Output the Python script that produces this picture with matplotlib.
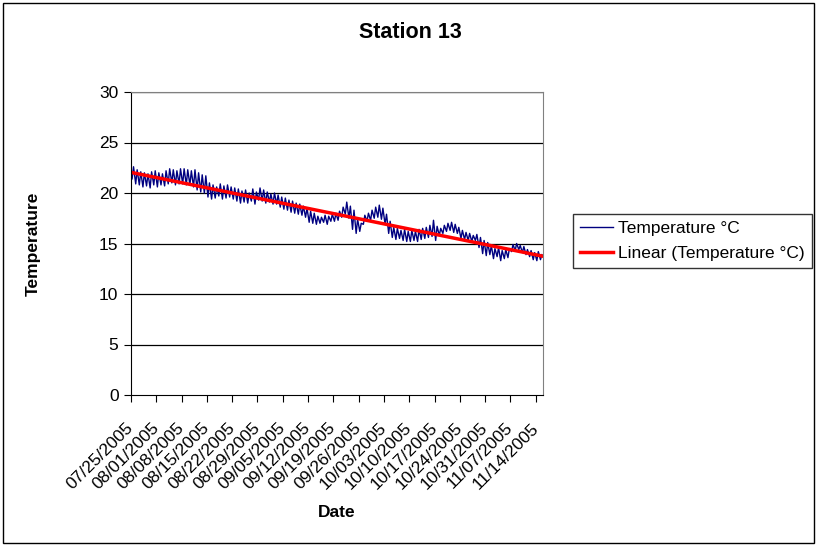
import numpy as np
import matplotlib.pyplot as plt
from matplotlib.patches import Rectangle
import datetime as dt

plt.rcParams['font.family'] = ['Liberation Sans', 'DejaVu Sans']

# daily range of readings, 07/25/2005 .. 11/15/2005
start = dt.date(2005, 7, 25)
daily_max = [22.6, 22.3, 22.1, 22.0, 21.9, 22.1, 22.2,
             22.0, 21.9, 22.2, 22.4, 22.3, 22.2, 22.4,
             22.4, 22.3, 22.2, 22.3, 22.0, 21.8, 21.7,
             21.0, 20.8, 20.6, 20.9, 20.7, 20.8, 20.6,
             20.5, 20.4, 20.2, 20.3, 20.0, 20.4, 20.1,
             20.5, 20.3, 20.1, 19.9, 20.0, 19.8, 19.6,
             19.5, 19.3, 19.2, 19.0, 18.9, 18.7, 18.5,
             18.2, 18.0, 17.7, 17.6, 17.8, 17.7, 17.9,
             18.0, 18.2, 18.6, 19.1, 18.7, 18.3, 17.4,
             17.0, 17.8, 18.0, 18.3, 18.6, 18.8, 18.5,
             17.9, 17.2, 16.6, 16.5, 16.3, 16.4, 16.2,
             16.3, 16.2, 16.4, 16.5, 16.6, 16.8, 17.3,
             16.7, 16.5, 16.8, 17.0, 17.1, 16.9, 16.6,
             16.3, 16.1, 16.0, 15.8, 15.9, 15.6, 15.3,
             15.1, 14.8, 14.5, 14.6, 14.3, 14.4, 14.5,
             14.9, 15.0, 14.8, 14.7, 14.4, 14.3, 14.1,
             14.2, 13.9]
daily_min = [21.4, 20.9, 20.8, 20.6, 20.7, 20.5, 20.8,
             20.6, 20.8, 20.7, 20.9, 21.0, 20.8, 20.9,
             20.9, 20.8, 20.8, 20.6, 20.3, 20.1, 20.0,
             19.6, 19.4, 19.5, 19.7, 19.4, 19.5, 19.6,
             19.4, 19.2, 19.0, 19.1, 19.0, 19.2, 18.9,
             19.3, 19.2, 19.0, 19.1, 18.9, 18.9, 18.6,
             18.4, 18.3, 18.1, 18.0, 17.9, 17.8, 17.6,
             17.1, 17.0, 16.9, 17.0, 17.1, 16.9, 17.2,
             17.2, 17.3, 17.6, 17.9, 17.5, 16.4, 16.0,
             16.2, 16.9, 17.2, 17.3, 17.5, 17.6, 17.4,
             16.9, 16.0, 15.6, 15.4, 15.5, 15.3, 15.2,
             15.2, 15.3, 15.2, 15.4, 15.5, 15.6, 15.7,
             15.3, 15.8, 16.0, 16.2, 16.3, 16.1, 16.0,
             15.5, 15.4, 15.3, 15.2, 15.3, 14.6, 14.0,
             13.8, 13.9, 13.5, 13.7, 13.3, 13.5, 13.6,
             14.2, 14.3, 14.4, 14.1, 13.9, 13.7, 13.4,
             13.3, 13.4]

n_days = len(daily_max)
# morning low then afternoon high for each day
t = []
temp = []
for d in range(n_days):
    t += [d + 0.3, d + 0.7]
    temp += [daily_min[d], daily_max[d]]
t = np.array(t)
temp = np.array(temp)

# linear trend
k, b = np.polyfit(t, temp, 1)
xt = np.array([0, n_days])

fig = plt.figure(figsize=(8.17, 5.46), dpi=100)
ax = fig.add_axes([131/817, 1 - 395/546, 412/817, 303/546])

ax.plot(t, temp, color='#000080', lw=1.0, label='Temperature °C')
ax.plot(xt, k * xt + b, color='#ff0000', lw=2.5, label='Linear (Temperature °C)')

ax.set_xlim(0, n_days)
ax.set_ylim(0, 30)
ax.set_yticks(range(0, 31, 5))
for yv in range(5, 31, 5):
    ax.axhline(yv, color='black', lw=0.9, zorder=0)

tick_pos = np.arange(0, n_days, 7)
tick_lab = [(start + dt.timedelta(days=int(p))).strftime('%m/%d/%Y') for p in tick_pos]
ax.set_xticks(tick_pos)
ax.set_xticklabels(tick_lab, rotation=45, ha='right', va='center', rotation_mode='anchor')
ax.tick_params(axis='both', direction='out', length=5, color='black', labelsize=12.5, pad=4)
ax.tick_params(axis='x', pad=17)

for s in ['top', 'right']:
    ax.spines[s].set_color('#808080')
for s in ['left', 'bottom']:
    ax.spines[s].set_color('black')

ax.set_xlabel('Date', fontsize=12.5, fontweight='bold')
ax.set_ylabel('Temperature', fontsize=12.5, fontweight='bold')
ax.xaxis.set_label_coords(0.5, (395 - 505) / 303)
ax.yaxis.set_label_coords((41 - 131) / 412, 0.5)
fig.text(410/817, 1 - 33/546, 'Station 13', ha='center', va='center', fontsize=15.5, fontweight='bold')

leg = fig.legend(loc='upper left', bbox_to_anchor=(573/817, 1 - 214/546), frameon=True,
                 fancybox=False, edgecolor='black', fontsize=12.5, handlelength=1.9,
                 handletextpad=0.3, borderpad=0.4, labelspacing=0.55, borderaxespad=0)
leg.get_frame().set_linewidth(1.0)

fig.patches.append(Rectangle((3/817, 3/546), 811/817, 540/546, transform=fig.transFigure,
                             fill=False, edgecolor='black', lw=1.0))

fig.savefig('out.png', dpi=100)
